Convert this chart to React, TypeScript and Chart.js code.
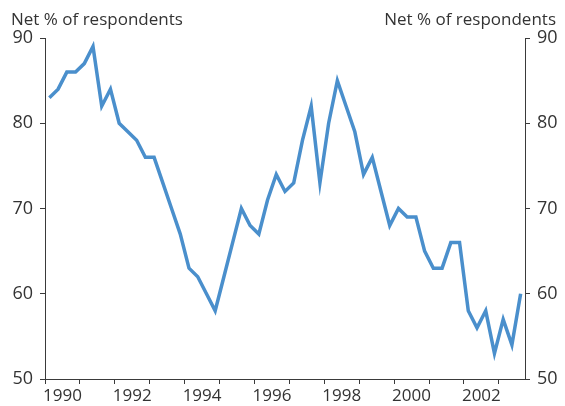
import React, { useEffect, useRef } from 'react';
import { Chart, registerables } from 'chart.js';

Chart.register(...registerables);

const quarters = [
  '1990 Q1', '1990 Q2', '1990 Q3', '1990 Q4',
  '1991 Q1', '1991 Q2', '1991 Q3', '1991 Q4',
  '1992 Q1', '1992 Q2', '1992 Q3', '1992 Q4',
  '1993 Q1', '1993 Q2', '1993 Q3', '1993 Q4',
  '1994 Q1', '1994 Q2', '1994 Q3', '1994 Q4',
  '1995 Q1', '1995 Q2', '1995 Q3', '1995 Q4',
  '1996 Q1', '1996 Q2', '1996 Q3', '1996 Q4',
  '1997 Q1', '1997 Q2', '1997 Q3', '1997 Q4',
  '1998 Q1', '1998 Q2', '1998 Q3', '1998 Q4',
  '1999 Q1', '1999 Q2', '1999 Q3', '1999 Q4',
  '2000 Q1', '2000 Q2', '2000 Q3', '2000 Q4',
  '2001 Q1', '2001 Q2', '2001 Q3', '2001 Q4',
  '2002 Q1', '2002 Q2', '2002 Q3', '2002 Q4',
  '2003 Q1', '2003 Q2', '2003 Q3',
];

const netBalance = [
  83, 84, 86, 86,
  87, 89, 82, 84,
  80, 79, 78, 76,
  76, 73, 70, 67,
  63, 62, 60, 58,
  62, 66, 70, 68,
  67, 71, 74, 72,
  73, 78, 82, 73,
  80, 85, 82, 79,
  74, 76, 72, 68,
  70, 69, 69, 65,
  63, 63, 66, 66,
  58, 56, 58, 53,
  57, 54, 60,
];

const yearTickLabels = ['1990', '1992', '1994', '1996', '1998', '2000', '2002'];
const yearBoundaries = [1990, 1991, 1992, 1993, 1994, 1995, 1996, 1997, 1998, 1999, 2000, 2001, 2002, 2003];
const axisStart = 1990;
const axisEnd = 2003.75;
const yMin = 50;
const yMax = 90;
const yStep = 10;
const titleText = 'Net % of respondents';

const FONT = '"Open Sans", "Noto Sans", sans-serif';
const TEXT = '#333333';
const AXIS = '#3a3a3a';
const LINE = '#4A8FCC';

function quarterToX(label: string): number {
  const [y, q] = label.split(' Q');
  return Number(y) + (Number(q) - 0.5) / 4;
}

const titlePlugin = {
  id: 'sideTitles',
  afterDraw(chart: any) {
    const ctx = chart.ctx;
    ctx.save();
    ctx.font = `17px ${FONT}`;
    ctx.fillStyle = TEXT;
    ctx.textBaseline = 'alphabetic';
    ctx.textAlign = 'left';
    ctx.fillText(titleText, 11, 25);
    ctx.textAlign = 'right';
    ctx.fillText(titleText, 556, 25);
    ctx.restore();
  },
};

export default function App() {
  const canvasRef = useRef<HTMLCanvasElement | null>(null);

  useEffect(() => {
    if (!canvasRef.current) return;
    const labelValues = yearTickLabels.map((l) => Number(l) + 0.5);
    const tickValues = [...yearBoundaries, ...labelValues].sort((a, b) => a - b);

    const yAxis = (position: 'left' | 'right', width: number) => ({
      type: 'linear' as const,
      position,
      min: yMin,
      max: yMax,
      ticks: {
        stepSize: yStep,
        padding: 7,
        color: TEXT,
        font: { family: FONT, size: 18 },
      },
      grid: { drawOnChartArea: false, drawTicks: true, tickLength: 5, color: AXIS, lineWidth: 1 },
      border: { display: true, color: AXIS, width: 1 },
      afterFit: (s: any) => {
        s.width = width;
      },
    });

    const chart = new Chart(canvasRef.current, {
      type: 'line',
      data: {
        datasets: [
          {
            label: titleText,
            data: quarters.map((q, i) => ({ x: quarterToX(q), y: netBalance[i] })),
            borderColor: LINE,
            backgroundColor: LINE,
            borderWidth: 3.5,
            pointRadius: 0,
            tension: 0,
            fill: false,
            borderJoinStyle: 'miter',
            xAxisID: 'x',
            yAxisID: 'y',
          },
        ],
      },
      options: {
        responsive: false,
        animation: false,
        devicePixelRatio: 1,
        layout: { padding: { top: 38, left: 0, right: 0, bottom: 0 } },
        plugins: {
          legend: { display: false },
          tooltip: { enabled: false },
          title: { display: false },
        },
        scales: {
          x: {
            type: 'linear',
            min: axisStart,
            max: axisEnd,
            afterBuildTicks: (scale: any) => {
              scale.ticks = tickValues.map((v) => ({ value: v }));
            },
            ticks: {
              autoSkip: false,
              maxRotation: 0,
              minRotation: 0,
              padding: 2,
              color: TEXT,
              font: { family: FONT, size: 17 },
              callback: (value: any) => {
                const idx = labelValues.indexOf(Number(value));
                return idx >= 0 ? yearTickLabels[idx] : '';
              },
            },
            grid: {
              drawOnChartArea: false,
              drawTicks: true,
              tickLength: 5,
              lineWidth: 1,
              color: (ctx: any) =>
                ctx.tick && Number.isInteger(ctx.tick.value) ? AXIS : 'rgba(0,0,0,0)',
            },
            border: { display: true, color: AXIS, width: 1 },
            afterFit: (s: any) => {
              s.height = 27;
            },
          },
          y: yAxis('left', 45),
          y2: yAxis('right', 40),
        },
      },
      plugins: [titlePlugin],
    } as any);

    return () => chart.destroy();
  }, []);

  return (
    <div style={{ position: 'fixed', left: 0, top: 0, width: 565, height: 406, background: '#fff' }}>
      <canvas ref={canvasRef} width={565} height={406} style={{ display: 'block' }} />
    </div>
  );
}
